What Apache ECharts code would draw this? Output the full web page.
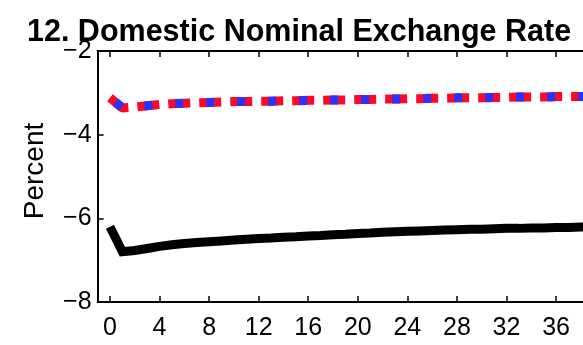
<!DOCTYPE html>
<html>
<head>
<meta charset="utf-8">
<script src="https://cdn.jsdelivr.net/npm/echarts@6/dist/echarts.min.js"></script>
<style>
  html, body { margin: 0; padding: 0; background: #fff; }
  #chart { width: 583px; height: 345px; }
</style>
</head>
<body>
<div id="chart"></div>
<script>
// Quarters after the shock
const quarters = [0,1,2,3,4,5,6,7,8,9,10,11,12,13,14,15,16,17,18,19,20,
  21,22,23,24,25,26,27,28,29,30,31,32,33,34,35,36,37,38,39,40];

// Response of the domestic nominal exchange rate (percent)
const baseline = [-6.20,-6.80,-6.77,-6.72,-6.67,-6.63,-6.60,-6.58,-6.56,-6.54,-6.52,
  -6.50,-6.48,-6.47,-6.45,-6.44,-6.42,-6.41,-6.39,-6.38,-6.36,
  -6.35,-6.33,-6.32,-6.31,-6.30,-6.29,-6.28,-6.27,-6.26,-6.26,
  -6.25,-6.24,-6.24,-6.23,-6.23,-6.22,-6.22,-6.21,-6.21,-6.20];
const altRed = [-3.12,-3.36,-3.34,-3.31,-3.28,-3.26,-3.25,-3.24,-3.23,-3.22,-3.21,
  -3.21,-3.20,-3.20,-3.19,-3.19,-3.18,-3.18,-3.17,-3.17,-3.16,
  -3.16,-3.15,-3.15,-3.14,-3.14,-3.13,-3.13,-3.12,-3.12,-3.12,
  -3.11,-3.11,-3.10,-3.10,-3.10,-3.09,-3.09,-3.09,-3.08,-3.08];
const altBlue = altRed.slice();

const xTicks = [0,4,8,12,16,20,24,28,32,36,40];

const pairs = (ys) => quarters.map((q, i) => [q, ys[i]]);
const font = 'Liberation Sans, Arial, sans-serif';

const chart = echarts.init(document.getElementById('chart'), null, { renderer: 'canvas' });

const xCommon = {
  type: 'value', min: -1, max: 40, gridIndex: 0,
  splitLine: { show: false },
  axisLine: { show: true, onZero: false, lineStyle: { color: '#000', width: 2 } },
  axisTick: { show: true, inside: true, length: 6, customValues: xTicks,
    lineStyle: { color: '#000', width: 1.5 } }
};

chart.setOption({
  animation: false,
  backgroundColor: '#fff',
  title: {
    text: '12. Domestic Nominal Exchange Rate',
    left: 22, top: 12,
    textStyle: { fontFamily: font, fontWeight: 'bold', fontSize: 30.5, color: '#000' }
  },
  graphic: [{
    type: 'text', x: 35, y: 171, rotation: Math.PI / 2,
    style: { text: 'Percent', fontFamily: font, fontSize: 28, fill: '#000',
      align: 'center', verticalAlign: 'middle' }
  }],
  grid: { left: 97.6, top: 51, width: 508, height: 251, outerBoundsMode: 'none', containLabel: false },
  xAxis: [
    Object.assign({}, xCommon, {
      position: 'bottom',
      axisLabel: { show: true, customValues: xTicks, margin: 14,
        fontFamily: font, fontSize: 25, color: '#000' }
    }),
    Object.assign({}, xCommon, {
      position: 'top',
      axisLabel: { show: false }
    })
  ],
  yAxis: {
    type: 'value', min: -8, max: -2, interval: 2,
    splitLine: { show: false },
    axisLine: { show: true, onZero: false, lineStyle: { color: '#000', width: 2 } },
    axisTick: { show: true, inside: true, length: 6, lineStyle: { color: '#000', width: 1.5 } },
    axisLabel: { margin: 6, fontFamily: font, fontSize: 25, color: '#000',
      formatter: (v) => (v < 0 ? '\u2212' + Math.abs(v) : String(v)) }
  },
  series: [
    {
      type: 'line', data: pairs(baseline), showSymbol: false, symbol: 'none',
      lineStyle: { color: '#000', width: 9, cap: 'butt', join: 'miter' },
      z: 2
    },
    {
      type: 'line', data: pairs(altRed), showSymbol: false, symbol: 'none',
      lineStyle: { color: '#ff0828', width: 9, type: [22, 9], cap: 'butt' },
      z: 3
    },
    {
      type: 'line', data: pairs(altBlue), showSymbol: false, symbol: 'none',
      lineStyle: { color: '#2f2fff', width: 9, type: [8, 23], dashOffset: 24, cap: 'butt' },
      z: 4
    }
  ]
});
</script>
</body>
</html>
